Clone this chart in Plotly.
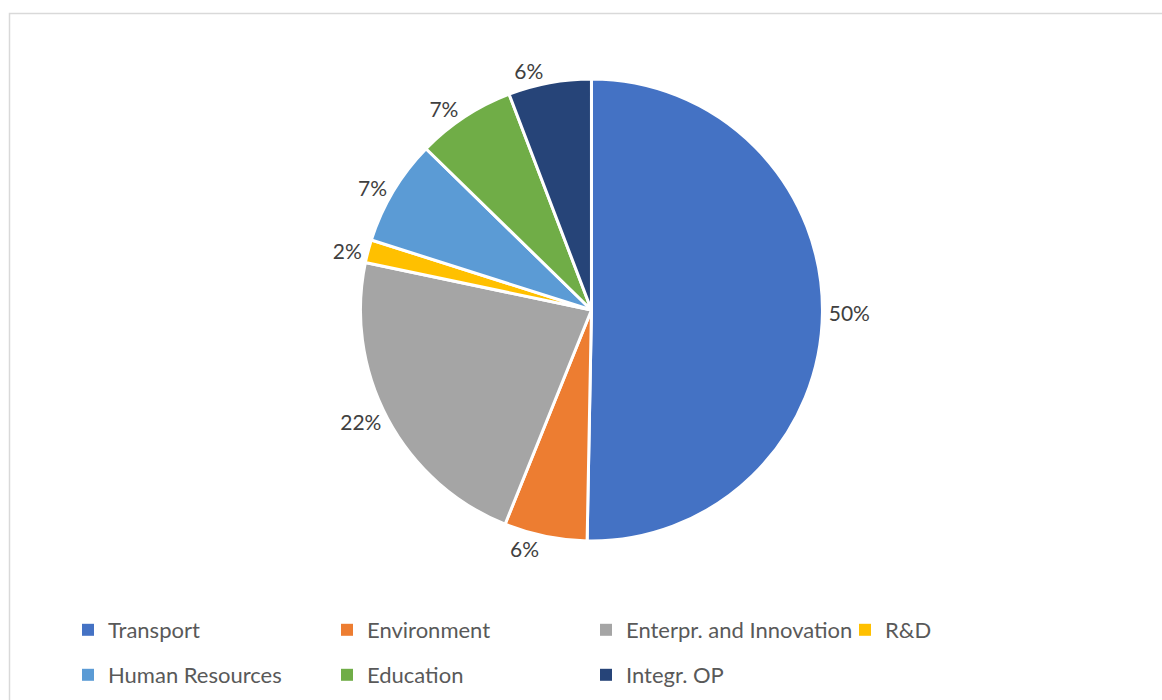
import plotly.graph_objects as go

# Share of funding by operational programme (%)
categories = ["Transport", "Environment", "Enterpr. and Innovation", "R&D",
              "Human Resources", "Education", "Integr. OP"]
shares = [50.3, 5.8, 22.2, 1.6, 7.4, 6.9, 5.8]
colors = ["#4472C4", "#ED7D31", "#A5A5A5", "#FFC000",
          "#5B9BD5", "#70AD47", "#264478"]

W, H = 1162, 700
FONT = "Lato, 'Open Sans', sans-serif"

fig = go.Figure()

fig.add_trace(go.Pie(
    labels=categories,
    values=shares,
    sort=False,
    direction="clockwise",
    rotation=0,
    marker=dict(colors=colors, line=dict(color="white", width=3)),
    textinfo="percent",
    texttemplate="%{percent:.0%}",
    textposition="outside",
    outsidetextfont=dict(family=FONT, size=21, color="#404040"),
    showlegend=False,
    domain=dict(x=[0.25, 0.768], y=[1 - 541 / H, 1 - 79 / H]),
    hoverinfo="label+percent",
))

# Legend entries: first row in "legend", second row in "legend2"
for i, (name, col) in enumerate(zip(categories, colors)):
    fig.add_trace(go.Scatter(
        x=[None], y=[None], mode="markers", name=name,
        marker=dict(symbol="square", size=9, color=col),
        legend="legend" if i < 4 else "legend2",
        hoverinfo="skip",
    ))

legend_style = dict(
    orientation="h", entrywidth=214, entrywidthmode="pixels",
    font=dict(family=FONT, size=22, color="#595959"),
    bgcolor="rgba(0,0,0,0)", xanchor="left", yanchor="middle",
    itemsizing="constant",
)

fig.update_layout(
    width=W, height=H,
    margin=dict(l=0, r=0, t=0, b=0),
    paper_bgcolor="white", plot_bgcolor="white",
    xaxis=dict(visible=False), yaxis=dict(visible=False),
    legend=dict(x=68 / W, y=1 - 630 / H, **legend_style),
    legend2=dict(x=68 / W, y=1 - 675 / H, **legend_style),
    shapes=[dict(type="rect", xref="paper", yref="paper",
                 x0=9.5 / W, y0=-0.05, x1=1.05, y1=1 - 13.5 / H,
                 line=dict(color="#D9D9D9", width=1.5), fillcolor="rgba(0,0,0,0)",
                 layer="below")],
)

fig.write_html("out.html")
